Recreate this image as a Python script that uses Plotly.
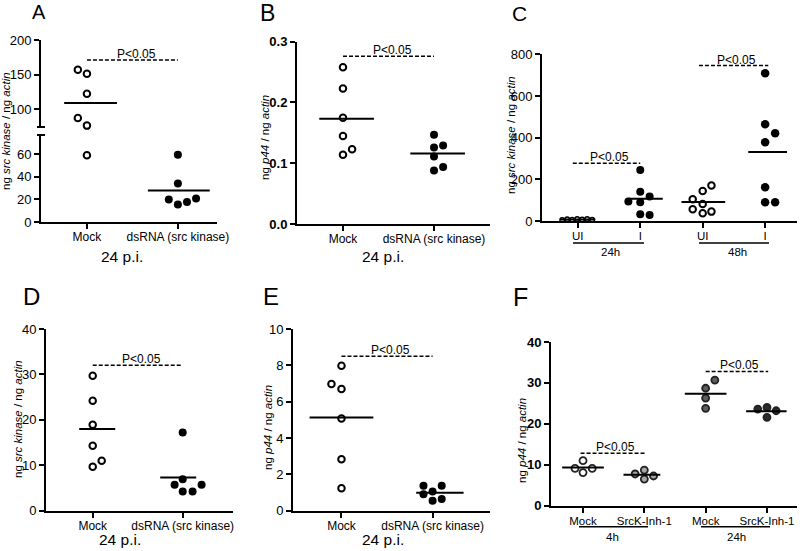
import numpy as np
import plotly.graph_objects as go

W, H = 800, 551
FONT = "Liberation Sans, Arial, sans-serif"

# ---------------- data ----------------
A_CATS = ["Mock", "dsRNA (src kinase)"]
A_MOCK = [157, 151, 122, 87, 76, 59]
A_DS = [59.5, 34, 20, 15.4, 17.8, 20.7]
A_P = 171

B_CATS = ["Mock", "dsRNA (src kinase)"]
B_MOCK = [0.258, 0.223, 0.175, 0.145, 0.114, 0.123]
B_DS = [0.147, 0.126, 0.129, 0.111, 0.088, 0.094]
B_P = 0.276

C_CATS = ["UI", "I", "UI", "I"]
C_GROUPS = ["24h", "48h"]
C_UI24 = [5, 8, 6, 10, 7, 9, 6]
C_I24 = [245, 140, 118, 93, 90, 32, 29]
C_UI48 = [170, 144, 104, 82, 56, 37, 45]
C_I48 = [709, 464, 421, 378, 162, 90, 90]
C_P = [277, 746]

D_CATS = ["Mock", "dsRNA (src kinase)"]
D_MOCK = [29.7, 24.2, 18.9, 14.3, 9.7, 11.0]
D_DS = [17.2, 6.9, 5.7, 5.7, 4.2, 4.2]
D_P = 32

E_CATS = ["Mock", "dsRNA (src kinase)"]
E_MOCK = [7.98, 6.97, 6.70, 5.08, 2.83, 1.23]
E_DS = [1.38, 1.38, 1.05, 0.9, 0.64, 0.55]
E_P = 8.5

F_CATS = ["Mock", "SrcK-Inh-1", "Mock", "SrcK-Inh-1"]
F_GROUPS = ["4h", "24h"]
F_MOCK4 = [11.0, 9.1, 9.1, 8.1]
F_INH4 = [8.7, 7.75, 7.26, 6.5]
F_MOCK24 = [30.7, 28.7, 26.3, 23.8]
F_INH24 = [23.6, 24.0, 23.2, 21.6]
F_P = [12.8, 32.8]

# ---------------- scatter (column) layout offsets ----------------
A_MOCK_DX = [-0.1, 0, 0, -0.1, 0, 0]
A_DS_DX = [0, 0, -0.1, 0, 0.1, 0.2]
B_MOCK_DX = [0, 0, 0, 0, 0, 0.1]
B_DS_DX = [0, 0, 0.1, 0, 0, 0.1]
C_UI24_DX = [-0.25, -0.17, -0.09, -0.01, 0.07, 0.15, 0.23]
C_I24_DX = [0, 0, 0.15, -0.19, 0, 0, 0.15]
C_UI48_DX = [0.14, 0, -0.16, 0, -0.16, 0, 0.14]
C_I48_DX = [0, 0, 0.16, 0, 0, 0, 0.16]
D_MOCK_DX = [0, 0, 0, 0, 0, 0.1]
D_DS_DX = [0, 0, -0.09, 0.21, 0, 0.11]
E_MOCK_DX = [0, -0.11, 0, 0, 0, 0]
E_DS_DX = [-0.1, 0.1, 0, -0.1, 0.1, 0]
F_MOCK4_DX = [0, -0.13, 0.15, 0]
F_INH4_DX = [0, -0.15, 0.15, 0]
F_MOCK24_DX = [0.15, 0, 0, 0]
F_INH24_DX = [-0.15, 0, 0.15, 0]


def px_x(px):
    return px / W


def px_y(py):
    return 1 - py / H


def xdom(p0, p1):
    return [p0 / W, p1 / W]


def ydom(top, bot):
    return [1 - bot / H, 1 - top / H]


fig = go.Figure()
annotations = []
shapes = []

OPEN = dict(color="white", size=6.5, line=dict(color="black", width=2))
FILLED = dict(color="black", size=8, line=dict(color="black", width=0))


def axis_common(bold=False, size=13):
    return dict(
        showline=True, linecolor="black", linewidth=2,
        ticks="outside", ticklen=5, tickwidth=2, tickcolor="black",
        showgrid=False, zeroline=False, fixedrange=True, automargin=False,
        tickfont=dict(family=FONT, size=size, color="black",
                      weight="bold" if bold else "normal"),
    )


def points(xa, ya, pos, vals, dx, marker):
    fig.add_trace(go.Scatter(
        x=[pos + d for d in dx], y=vals, xaxis=xa, yaxis=ya,
        mode="markers", marker=marker, cliponaxis=False, showlegend=False,
        hoverinfo="skip"))


def mean_line(xa, ya, pos, vals, half=0.3, shift=0.04):
    m = float(np.mean(vals))
    fig.add_trace(go.Scatter(
        x=[pos + shift - half, pos + shift + half], y=[m, m], xaxis=xa, yaxis=ya,
        mode="lines", line=dict(color="black", width=2), cliponaxis=False,
        showlegend=False, hoverinfo="skip"))


def p_bar(xa, ya, c1, c2, p):
    fig.add_trace(go.Scatter(
        x=[c1, c2], y=[p, p], xaxis=xa, yaxis=ya, mode="lines",
        line=dict(color="black", width=1.5, dash="4px,2px"), cliponaxis=False,
        showlegend=False, hoverinfo="skip"))
    annotations.append(dict(
        x=(c1 + c2) / 2 + 0.04, y=p, xref=xa, yref=ya, text="P<0.05",
        showarrow=False, yanchor="bottom", yshift=-3,
        font=dict(family=FONT, size=12, color="black")))


def text(px, py, s, size=12, angle=0):
    annotations.append(dict(
        x=px_x(px), y=px_y(py), xref="paper", yref="paper", text=s,
        showarrow=False, xanchor="center", yanchor="middle", textangle=angle,
        font=dict(family=FONT, size=size, color="black")))


def hline(px0, px1, py, width=1.5):
    shapes.append(dict(type="line", xref="paper", yref="paper",
                       x0=px_x(px0), x1=px_x(px1), y0=px_y(py), y1=px_y(py),
                       line=dict(color="black", width=width)))


YT_SRC = "ng <i>src kinase</i> / ng <i>actin</i>"
YT_P44 = "ng <i>p44</i> / ng <i>actin</i>"
YT_SIZE = 11.5

layout = {}


def xaxis_cfg(dom, rng, anchor, cats, size=12):
    d = axis_common(size=size)
    d.update(domain=xdom(*dom), range=rng, anchor=anchor,
             tickvals=list(range(1, len(cats) + 1)), ticktext=cats,
             ticklabelstandoff=-2)
    return d


def yaxis_cfg(dom, rng, anchor, vals, bold=False, fmt=None):
    d = axis_common(bold=bold)
    d.update(domain=ydom(*dom), range=rng, anchor=anchor, tickvals=vals)
    if fmt:
        d["tickformat"] = fmt
    return d


# ---------------- Panel A (broken axis) ----------------
BREAK = 75
layout["xaxis"] = xaxis_cfg((41, 217), [0.495, 2.43], "y", A_CATS)
layout["yaxis"] = yaxis_cfg((135, 222), [0, 77], "x", [0, 20, 40, 60])
layout["yaxis2"] = yaxis_cfg((40, 127), [74, 200], "x", [100, 150, 200])
hi = [i for i, v in enumerate(A_MOCK) if v >= BREAK]
lo = [i for i, v in enumerate(A_MOCK) if v < BREAK]
points("x", "y2", 1, [A_MOCK[i] for i in hi], [A_MOCK_DX[i] for i in hi], OPEN)
points("x", "y", 1, [A_MOCK[i] for i in lo], [A_MOCK_DX[i] for i in lo], OPEN)
points("x", "y", 2, A_DS, A_DS_DX, FILLED)
mean_line("x", "y2", 1, A_MOCK, half=0.29)
mean_line("x", "y", 2, A_DS, half=0.34, shift=0.01)
p_bar("x", "y2", 1, 2, A_P)
hline(37, 45, 127, 2)
hline(37, 45, 135, 2)
text(6, 131, YT_SRC, size=YT_SIZE, angle=-90)
text(122, 256, "24 p.i.", size=15.5)
text(38.5, 12, "A", size=20)

# ---------------- Panel B ----------------
layout["xaxis2"] = xaxis_cfg((297, 490), [0.495, 2.615], "y3", B_CATS)
layout["yaxis3"] = yaxis_cfg((41.7, 224), [0, 0.3], "x2", [0, 0.1, 0.2, 0.3], bold=True, fmt=".1f")
points("x2", "y3", 1, B_MOCK, B_MOCK_DX, OPEN)
points("x2", "y3", 2, B_DS, B_DS_DX, FILLED)
mean_line("x2", "y3", 1, B_MOCK)
mean_line("x2", "y3", 2, B_DS)
p_bar("x2", "y3", 1, 2, B_P)
text(265, 138, YT_P44, size=YT_SIZE, angle=-90)
text(383, 256, "24 p.i.", size=15.5)
text(267.5, 13, "B", size=23)

# ---------------- Panel C ----------------
layout["xaxis3"] = xaxis_cfg((542, 797), [0.427, 4.51], "y4", C_CATS, size=11.5)
layout["yaxis4"] = yaxis_cfg((54.3, 221), [0, 800], "x3", [0, 200, 400, 600, 800])
points("x3", "y4", 1, C_UI24, C_UI24_DX, dict(OPEN, size=4.5, line=dict(color="black", width=1.5)))
points("x3", "y4", 2, C_I24, C_I24_DX, FILLED)
points("x3", "y4", 3, C_UI48, C_UI48_DX, OPEN)
points("x3", "y4", 4, C_I48, C_I48_DX, dict(FILLED, size=8.5))
mean_line("x3", "y4", 1, C_UI24, half=0.28, shift=0.0)
mean_line("x3", "y4", 2, C_I24, half=0.28, shift=0.08)
mean_line("x3", "y4", 3, C_UI48, half=0.35, shift=0.01)
mean_line("x3", "y4", 4, C_I48, half=0.31, shift=0.04)
p_bar("x3", "y4", 0.92, 2.0, C_P[0])
p_bar("x3", "y4", 2.94, 4.05, C_P[1])
hline(573, 644, 243)
hline(699, 769, 243)
text(610, 252, C_GROUPS[0], size=11.5)
text(737, 252, C_GROUPS[1], size=11.5)
text(511, 135, YT_SRC, size=YT_SIZE, angle=-90)
text(519, 13, "C", size=21)

# ---------------- Panel D ----------------
layout["xaxis4"] = xaxis_cfg((46, 233), [0.481, 2.559], "y5", D_CATS)
layout["yaxis5"] = yaxis_cfg((329, 510.7), [0, 40], "x4", [0, 10, 20, 30, 40])
points("x4", "y5", 1, D_MOCK, D_MOCK_DX, OPEN)
points("x4", "y5", 2, D_DS, D_DS_DX, FILLED)
mean_line("x4", "y5", 1, D_MOCK, half=0.2, shift=0.05)
mean_line("x4", "y5", 2, D_DS, half=0.2, shift=-0.05)
p_bar("x4", "y5", 1, 2, D_P)
text(18, 419, YT_SRC, size=YT_SIZE, angle=-90)
text(120, 539, "24 p.i.", size=15.5)
text(31.5, 296, "D", size=24)

# ---------------- Panel E ----------------
layout["xaxis5"] = xaxis_cfg((293, 490), [0.468, 2.63], "y6", E_CATS)
layout["yaxis6"] = yaxis_cfg((329, 510.7), [0, 10], "x5", [0, 2, 4, 6, 8, 10])
points("x5", "y6", 1, E_MOCK, E_MOCK_DX, OPEN)
points("x5", "y6", 2, E_DS, E_DS_DX, FILLED)
mean_line("x5", "y6", 1, E_MOCK, half=0.35, shift=0.0)
mean_line("x5", "y6", 2, E_DS, half=0.26, shift=0.08)
p_bar("x5", "y6", 1, 2, E_P)
text(268, 428, YT_P44, size=YT_SIZE, angle=-90)
text(383, 539, "24 p.i.", size=15.5)
text(271, 296.5, "E", size=24)

# ---------------- Panel F ----------------
layout["xaxis6"] = xaxis_cfg((551, 797), [0.478, 4.49], "y7", F_CATS, size=11.5)
layout["yaxis7"] = yaxis_cfg((342, 505.7), [0, 40], "x6", [0, 10, 20, 30, 40], bold=True)
F_EDGE = dict(color="#222222", width=1.8)
points("x6", "y7", 1, F_MOCK4, F_MOCK4_DX, dict(color="white", size=7, line=F_EDGE))
points("x6", "y7", 2, F_INH4, F_INH4_DX, dict(color="#a8a8a8", size=7, line=F_EDGE))
points("x6", "y7", 3, F_MOCK24, F_MOCK24_DX, dict(color="#5e5e5e", size=7, line=F_EDGE))
points("x6", "y7", 4, F_INH24, F_INH24_DX, dict(color="#2a2a2a", size=7, line=F_EDGE))
mean_line("x6", "y7", 1, F_MOCK4, half=0.34, shift=0.0)
mean_line("x6", "y7", 2, F_INH4, half=0.3, shift=-0.04)
mean_line("x6", "y7", 3, F_MOCK24, half=0.34, shift=0.0)
mean_line("x6", "y7", 4, F_INH24, half=0.33, shift=-0.01)
p_bar("x6", "y7", 0.96, 2.03, F_P[0])
p_bar("x6", "y7", 3.0, 4.02, F_P[1])
hline(579, 648, 526.7)
hline(701, 770, 526.7)
text(612, 537, F_GROUPS[0], size=11.5)
text(736, 537, F_GROUPS[1], size=11.5)
text(522, 441, YT_P44, size=YT_SIZE, angle=-90)
text(520, 297, "F", size=25)

fig.update_layout(
    width=W, height=H,
    margin=dict(l=0, r=0, t=0, b=0),
    paper_bgcolor="white", plot_bgcolor="white",
    showlegend=False,
    font=dict(family=FONT, size=12, color="black"),
    annotations=annotations, shapes=shapes,
    **layout,
)

fig.write_html(
    "out.html",
    config={"displayModeBar": False},
    post_script="document.body.style.margin='0';document.body.style.padding='0';",
)
